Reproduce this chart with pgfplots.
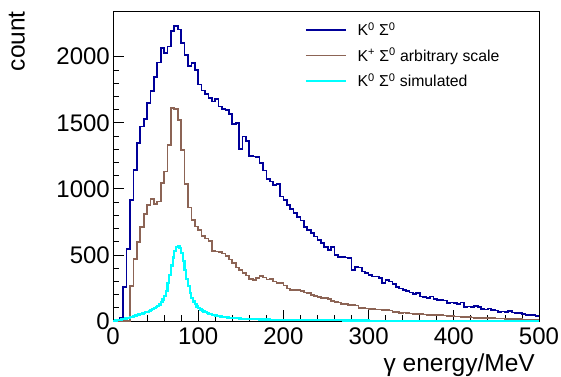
\documentclass[border=0pt]{standalone}
\usepackage{fontspec}
\setmainfont{Liberation Sans}
\usepackage{pgfplots}
\pgfplotsset{compat=1.18}
\definecolor{hblue}{RGB}{0,0,153}
\definecolor{hbrown}{RGB}{140,100,85}
\definecolor{hcyan}{RGB}{0,255,255}
\begin{document}
\begin{tikzpicture}
\useasboundingbox (0,0) rectangle (561pt,376pt);
\begin{axis}[
 name=ax,
 at={(113pt,55pt)}, anchor=south west,
 width=426pt, height=310pt, scale only axis,
 xmin=0, xmax=500, ymin=0, ymax=2346,
 xtick={0,100,...,500}, ytick={0,500,...,2000},
 minor x tick num=4, minor y tick num=4,
 tick align=inside, tick pos=left,
 major tick length=11pt, minor tick length=6pt,
 axis line style={line width=0.8pt},
 every tick/.style={black, line width=0.8pt},
 /pgf/number format/assume math mode=true,
 /pgf/number format/1000 sep={},
 tick label style={font=\fontsize{24}{28}\selectfont},
 xticklabel style={anchor=north, inner sep=0pt, yshift=-7pt},
 yticklabel style={anchor=east, inner sep=0pt, xshift=-3pt},
 legend style={draw=none, fill=none, at={(0.4507,0.962)}, anchor=north west,
   inner sep=0pt, outer sep=0pt, row sep=11pt,
   font=\fontsize{15.8}{18}\selectfont, nodes={inner sep=0pt},
   /tikz/every odd column/.style={column sep=11pt}},
 legend image code/.code={\draw[#1, line width=1.5pt] (0pt,0pt) -- (40pt,0pt);},
 legend cell align=left,
]
\addplot[const plot, hblue, line width=1.7pt] table {
0 0
4 0
8 22
12 258
16 545
20 915
24 1145
28 1348
32 1472
36 1530
40 1650
44 1740
48 1845
52 1957
56 2066
60 2030
64 2078
68 2192
72 2235
76 2205
80 2104
84 2015
88 1930
92 1955
96 1902
100 1790
104 1745
108 1717
112 1687
116 1662
120 1679
124 1623
128 1605
132 1598
136 1565
140 1490
144 1497
148 1303
152 1396
156 1360
160 1250
164 1245
168 1240
172 1194
176 1139
180 1073
184 1055
188 1030
192 1035
196 942
200 917
204 879
208 846
212 816
216 786
220 760
224 714
228 690
232 667
236 640
240 614
244 590
248 560
252 538
256 560
260 500
264 487
268 487
272 480
276 477
280 386
284 411
288 405
292 375
296 365
300 350
304 336
308 336
312 325
316 288
320 310
324 300
328 280
332 255
336 245
340 235
344 225
348 215
352 205
356 210
360 185
364 180
368 175
372 185
376 165
380 160
384 160
388 155
392 135
396 140
400 134
404 130
408 140
412 108
416 110
420 105
424 115
428 105
432 90
436 88
440 95
444 85
448 80
452 70
456 72
460 68
464 75
468 65
472 58
476 60
480 55
484 45
488 48
492 44
496 40
500 40
};
\addlegendentry{K\textsuperscript{0} Σ\textsuperscript{0}}
\addplot[const plot, hbrown, line width=1.7pt] table {
0 0
20 265
24 470
28 600
32 714
36 810
40 880
44 921
48 888
52 904
56 1043
60 1131
64 1333
68 1611
72 1605
76 1523
80 1295
84 1035
88 860
92 765
96 715
100 689
104 645
108 625
112 605
116 530
120 525
124 520
128 510
132 490
136 465
140 437
144 405
148 385
152 365
156 345
160 318
164 312
168 328
172 338
176 330
180 315
184 320
188 298
192 285
196 288
200 268
204 245
208 236
212 234
216 232
220 225
224 215
228 210
232 195
236 189
240 182
244 175
248 172
252 165
256 150
260 146
264 140
268 130
272 128
276 122
280 120
284 118
288 100
292 96
296 94
300 90
304 90
308 87
312 88
316 84
320 82
324 80
328 70
332 66
336 63
340 64
344 60
348 56
352 55
356 53
360 52
364 50
368 47
372 46
376 45
380 44
384 43
388 42
392 40
396 38
400 35
404 33
408 32
412 32
416 30
420 27
424 25
428 24
432 23
436 22
440 22
444 21
448 20
452 19
456 18
460 16
464 15
468 14
472 14
476 13
480 12
484 12
488 11
492 10
496 10
500 10
};
\addlegendentry{K\textsuperscript{+} Σ\textsuperscript{0} arbitrary scale}
\addplot[const plot, hcyan, line width=2.2pt] table {
0 2
2 4
4 6
6 8
8 10
10 13
12 16
14 19
16 22
18 25
20 29
22 33
24 37
26 41
28 45
30 49
32 53
34 57
36 62
38 66
40 70
42 75
44 82
46 89
48 96
50 104
52 113
54 125
56 142
58 163
60 190
62 230
64 285
66 350
68 420
70 480
72 528
74 562
76 570
78 555
80 515
82 455
84 385
86 320
88 262
90 212
92 175
94 147
96 126
98 110
100 97
102 87
104 79
106 72
108 66
110 61
112 56
114 52
116 48
118 45
120 42
122 39
124 36
126 34
128 32
130 30
132 28
134 27
136 25
138 24
140 23
142 22
144 21
146 20
148 19
150 18
152 17
156 16
160 15
164 14
168 13
172 12
176 12
180 11
184 10
188 10
192 9
196 9
200 8
210 7
220 7
230 6
240 6
250 5
260 5
270 4
280 4
290 4
300 3
350 3
400 2
450 2
500 2
};
\addlegendentry{K\textsuperscript{0} Σ\textsuperscript{0} simulated}
\end{axis}
\node[rotate=90, anchor=south east, inner sep=0pt, font=\fontsize{24.5}{28}\selectfont] at ([xshift=-88pt]ax.north west) {count};
\node[anchor=base east, inner sep=0pt, font=\fontsize{24.5}{28}\selectfont] at ([xshift=-4pt,yshift=-50pt]ax.south east) {γ energy/MeV};
\end{tikzpicture}
\end{document}
